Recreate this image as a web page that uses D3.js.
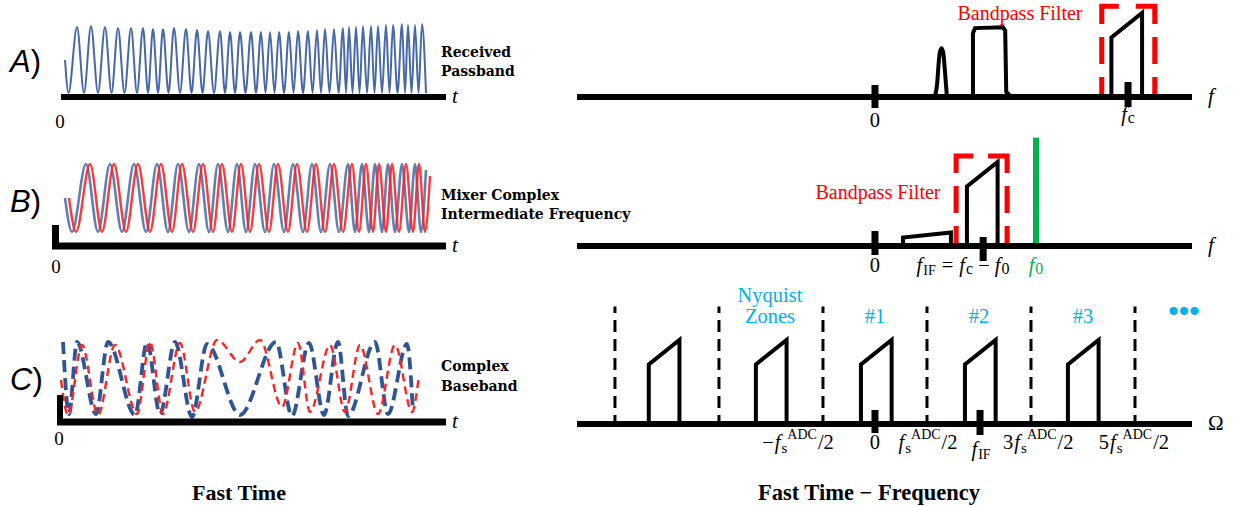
<!DOCTYPE html>
<html><head><meta charset="utf-8">
<script src="https://cdn.jsdelivr.net/npm/d3@7"></script>
<style>body{margin:0;background:#fff}svg{display:block}</style>
</head><body>
<svg id="chart" width="1233" height="507"></svg>
<script>
// ======================= DATA =======================
const rowLetters = ["A", "B", "C"];
const rowNames = [["Received", "Passband"], ["Mixer Complex", "Intermediate Frequency"], ["Complex", "Baseband"]];
const panelTitles = ["Fast Time", "Fast Time \u2212 Frequency"];

// --- Row A, fast time: received passband chirp (time units; heights above axis)
const aStart = [4, 37];
const aPeakT = [16,30,44,57,70,82,92,102,113,125,136,147,159,169,179,190,200,209,218,228,237,247,256,264,273,282,288,295,302,310,317,325,332,341,347,354,361];
const aPeakH = [70,71,70,69,69,69,68,68,69,68,67,66,66,65,65,65,65,65,65,65,66,66,67,68,68,69,70,70,71,71,71,72,72,73,72,72,73];
const aTroughT = [7.5,23,37,50.5,63.5,76,87,97,107.5,119,130.5,141.5,153,164,174,184.5,195,204.5,213.5,223,232.5,242,251.5,260,268.5,277.5,285,291.5,298.5,306,313.5,321,328.5,336.5,344,350.5,357.5,365];
const aTroughH = 4;

// --- Row B, fast time: complex IF (I = blue, Q = red)
const bPeakH = 82, bTroughH = 14;
const bIStart = [4, 48], bIEnd = [365, 76];
const bIPeakT = [25,49,73,96,117,138,157,176,194,213,232,251,269,287,301,314,327,341,354];
const bITroughT = [11,37,61,85,107,128,148,167,185,204,223,242,260,278,294,308,321,334,348,360];
const bQStart = [8, 48], bQEnd = [369, 70];
const bQPeakT = [29,53,77,100,121,142,161,180,198,217,236,255,273,291,305,318,331,345,358];
const bQTroughT = [15,41,65,89,111,132,152,171,189,208,227,246,264,282,298,312,325,338,352,364];

// --- Row C, fast time: complex baseband [time, height]
const cI = [[2,80],[8,8],[16,80],[35,8],[47,80],[74,7],[86,80],[99,8],[114,80],[131,5],[146,78],[179,7],[215,80],[231,6],[248,79],[263,7],[277,80],[287,6],[314,80],[327,8],[346,78],[352,10]];
const cQ = [[0,42],[7,7],[21,77],[37,7],[54,77],[76,8],[89,80],[102,8],[119,79],[134,10],[156,82],[179,60],[199,82],[221,15],[237,79],[249,10],[269,77],[284,10],[299,77],[317,8],[334,77],[351,10],[358,47]];

// --- Spectra (frequency in units of f_s^ADC, magnitude normalised)
const interfererTone = [[0.577,0],[0.596,0.14],[0.611,0.38],[0.625,0.54],[0.639,0.58],[0.654,0.54],[0.668,0.38],[0.683,0.14],[0.692,0]];
const interfererBand = [[0.942,0],[0.942,0.76],[0.962,0.82],[1.23,0.83],[1.252,0.79],[1.262,0.06],[1.31,0]];
const chirpShape = [[-0.145,0],[-0.145,0.71],[0.15,1.0],[0.15,0]];
const fcCenter = 2.418, fcTick = 2.433;
const aFilterBand = [2.18, 2.69], aFilterHeight = 1.08;
const imageBand = [[0.27,0],[0.27,0.10],[0.73,0.16],[0.73,0]];
const ifCenter = 1.029, ifTickB = 1.04;
const bFilterBand = [0.78, 1.27], bFilterHeight = 1.07;
const loFreq = 1.548, loHeight = 1.29;
const zoneEdges = [-2.5, -1.5, -0.5, 0.5, 1.5, 2.5], zoneEdgeHeight = 1.40;
const replicaCenters = [-2.03, -1.0, 0.01, 1.01, 2.0];
const ifTickC = 1.01;
const zoneLabels = [
  {f: -1.01, lines: ["Nyquist", "Zones"]},
  {f: 0.0, lines: ["#1"]},
  {f: 1.0, lines: ["#2"]},
  {f: 2.0, lines: ["#3"]}
];
const moreZonesF = 2.97;
const cAxisLabels = [
  {f: -0.74, kind: "half", prefix: "\u2212"},
  {f: 0.0, kind: "zero"},
  {f: 0.51, kind: "half", prefix: ""},
  {f: 1.02, kind: "fif"},
  {f: 1.57, kind: "half", prefix: "3"},
  {f: 2.49, kind: "half", prefix: "5"}
];

// ======================= LAYOUT / STYLE =======================
const svg = d3.select("#chart");
const serif = "'Liberation Serif', 'Times New Roman', serif";
const boldSerif = "'DejaVu Serif', serif";
const BLUE = "#4668a8", BLUE_C = "#2f5597", RED = "#ff2222", BOXRED = "#ff0000", GREEN = "#00b050", CYAN = "#00b0f0";

const rowsY = {left: [97, 246, 422], right: [97, 246, 424]};
const xT = d3.scaleLinear().domain([0, 385]).range([61, 446]);
const xF = d3.scaleLinear().domain([-2.865, 3.048]).range([577, 1192]);
const hScale = (axisY) => d3.scaleLinear().domain([0, 100]).range([axisY, axisY - 100]);
const mScale = (axisY) => d3.scaleLinear().domain([0, 1]).range([axisY, axisY - 84]);

function merge(start, peaksT, peaksH, troughsT, troughH, end) {
  const pts = [start];
  peaksT.forEach((t, i) => pts.push([t, Array.isArray(peaksH) ? peaksH[i] : peaksH]));
  troughsT.forEach(t => pts.push([t, troughH]));
  if (end) pts.push(end);
  return pts.sort((a, b) => a[0] - b[0]);
}

// ---------- math label helper ----------
function mathLabel(parent, x, y, pieces, opts = {}) {
  const size = opts.size || 20.5, small = opts.small || 14;
  const g = parent.append("g").attr("fill", opts.color || "#000");
  let cx = 0, subStart = 0;
  pieces.forEach(p => {
    const fs = (p.sub || p.sup) ? (p.sz || small) : size;
    const dy = p.sub ? (p.dy != null ? p.dy : 4) : p.sup ? -10 : 0;
    const sx = p.stack ? subStart : cx + (p.gap || 0);
    const t = g.append("text").attr("x", sx).attr("y", dy)
      .attr("font-family", serif).attr("font-size", fs)
      .attr("font-style", p.i ? "italic" : "normal").text(p.t);
    const w = t.node().getComputedTextLength() + (p.kern || 0);
    if (p.stack) cx = Math.max(cx, sx + w); else { subStart = sx + w; cx = sx + w; }
  });
  const anchorX = opts.anchor === "start" ? x : x - cx / 2;
  g.attr("transform", `translate(${anchorX},${y})`);
  return g;
}

// ======================= LEFT: FAST TIME =======================
const left = svg.append("g");
const lineCurve = (ys) => d3.line().x(d => xT(d[0])).y(d => ys(d[1])).curve(d3.curveMonotoneX);

// Row letters and names
rowLetters.forEach((L, i) => {
  const baseY = [72, 212, 390][i];
  const t = left.append("text").attr("x", 10).attr("y", baseY)
    .attr("font-family", "'Liberation Sans', Arial, sans-serif").attr("font-size", 31);
  t.append("tspan").attr("font-style", "italic").text(L);
  t.append("tspan").text(")");
  const nameY = [[57, 76], [200, 219], [371, 391]][i];
  rowNames[i].forEach((s, k) => left.append("text").attr("x", 441).attr("y", nameY[k])
    .attr("font-family", boldSerif).attr("font-weight", "bold").attr("font-size", 14).text(s));
});

// Waves
const yA = hScale(rowsY.left[0]), yB = hScale(rowsY.left[1]), yC = hScale(rowsY.left[2]);
left.append("path").datum(merge(aStart, aPeakT, aPeakH, aTroughT, aTroughH))
  .attr("d", lineCurve(yA)).attr("fill", "none").attr("stroke", BLUE).attr("stroke-width", 2);
left.append("path").datum(merge(bIStart, bIPeakT, bPeakH, bITroughT, bTroughH, bIEnd))
  .attr("d", lineCurve(yB)).attr("fill", "none").attr("stroke", BLUE).attr("stroke-opacity", 0.85).attr("stroke-width", 2.6);
left.append("path").datum(merge(bQStart, bQPeakT, bPeakH, bQTroughT, bTroughH, bQEnd))
  .attr("d", lineCurve(yB)).attr("fill", "none").attr("stroke", RED).attr("stroke-opacity", 0.9).attr("stroke-width", 2.4);
left.append("path").datum(cI).attr("d", lineCurve(yC)).attr("fill", "none")
  .attr("stroke", BLUE_C).attr("stroke-width", 3.8).attr("stroke-dasharray", "12,6");
left.append("path").datum(cQ).attr("d", lineCurve(yC)).attr("fill", "none")
  .attr("stroke", RED).attr("stroke-width", 2.4).attr("stroke-dasharray", "8,5");

// Time axes (with origin bars for B and C)
const tAxes = [{y: 97, t0: 0, w: 6}, {y: 246, t0: -9, w: 7, bar: [-9, -2, 225]}, {y: 422, t0: -4, w: 7, bar: [-4, 2, 395]}];
tAxes.forEach((a, i) => {
  left.append("line").attr("x1", xT(a.t0)).attr("x2", xT(385)).attr("y1", a.y).attr("y2", a.y)
    .attr("stroke", "#000").attr("stroke-width", a.w);
  if (a.bar) left.append("rect").attr("x", xT(a.bar[0])).attr("width", xT(a.bar[1]) - xT(a.bar[0]))
    .attr("y", a.bar[2]).attr("height", a.y - a.bar[2]).attr("fill", "#000");
  left.append("text").attr("x", 452).attr("y", a.y + 6).attr("font-family", serif)
    .attr("font-style", "italic").attr("font-size", 21).text("t");
  const zx = [60, 56, 59][i], zy = [128, 273, 445][i];
  left.append("text").attr("x", zx).attr("y", zy).attr("text-anchor", "middle")
    .attr("font-family", serif).attr("font-size", 19).text("0");
});

svg.append("text").attr("x", 239).attr("y", 500).attr("text-anchor", "middle")
  .attr("font-family", serif).attr("font-weight", "bold").attr("font-size", 22).text(panelTitles[0]);
svg.append("text").attr("x", 869).attr("y", 500).attr("text-anchor", "middle")
  .attr("font-family", serif).attr("font-weight", "bold").attr("font-size", 22.5).text(panelTitles[1]);

// ======================= RIGHT: SPECTRA =======================
const right = svg.append("g");
const specLine = (ms) => d3.line().x(d => xF(d[0])).y(d => ms(d[1]));
const blockAt = (c) => chirpShape.map(d => [c + d[0], d[1]]);

function freqAxis(axisY, label, ticks) {
  right.append("line").attr("x1", xF.range()[0]).attr("x2", xF.range()[1]).attr("y1", axisY).attr("y2", axisY)
    .attr("stroke", "#000").attr("stroke-width", 6);
  ticks.forEach(t => right.append("rect").attr("x", xF(t.f) - 3.5).attr("width", 7)
    .attr("y", axisY - t.up).attr("height", t.up + t.down).attr("fill", "#000"));
  const lt = right.append("text").attr("x", 1208).attr("y", axisY + 6).attr("font-family", serif).attr("font-size", 21).text(label.t);
  if (label.i) lt.attr("font-style", "italic");
}
function drawShape(ms, pts, curve) {
  const ln = specLine(ms); if (curve) ln.curve(curve);
  right.append("path").datum(pts).attr("d", ln).attr("fill", "none").attr("stroke", "#000")
    .attr("stroke-width", 4).attr("stroke-linejoin", "miter");
}
function filterBox(ms, band, height) {
  const x0 = xF(band[0]), x1 = xF(band[1]), yb = ms(0), yt = ms(height);
  const h = yb - yt, w = x1 - x0, r = h - 73;
  right.append("path").attr("d", `M${x0},${yb}V${yt}H${x1}V${yb}`).attr("fill", "none")
    .attr("stroke", BOXRED).attr("stroke-width", 5).attr("stroke-linejoin", "miter")
    .attr("stroke-dasharray", [20, 13, 27, 13, r + 17, w - 36, r + 19, 13, 27, 13, 20].join(","));
}

// Row A
{
  const ay = rowsY.right[0], ms = mScale(ay);
  drawShape(ms, interfererTone, d3.curveCatmullRom);
  drawShape(ms, interfererBand);
  drawShape(ms, blockAt(fcCenter));
  filterBox(ms, aFilterBand, aFilterHeight);
  freqAxis(ay, {t: "f", i: true}, [{f: 0, up: 12, down: 11}, {f: fcTick, up: 15, down: 10}]);
  right.append("text").attr("x", 1020).attr("y", 20).attr("text-anchor", "middle").attr("fill", BOXRED)
    .attr("font-family", serif).attr("font-size", 20).text("Bandpass Filter");
  mathLabel(right, xF(0), 127, [{t: "0"}]);
  mathLabel(right, xF(fcTick), 121, [{t: "f", i: true, kern: 1}, {t: "c", sub: true, sz: 16, dy: 2}]);
}
// Row B
{
  const by = rowsY.right[1], ms = mScale(by);
  drawShape(ms, imageBand);
  drawShape(ms, blockAt(ifCenter));
  filterBox(ms, bFilterBand, bFilterHeight);
  right.append("line").attr("x1", xF(loFreq)).attr("x2", xF(loFreq)).attr("y1", ms(0)).attr("y2", ms(loHeight))
    .attr("stroke", GREEN).attr("stroke-width", 6);
  freqAxis(by, {t: "f", i: true}, [{f: 0, up: 15, down: 9}, {f: ifTickB, up: 9, down: 15}]);
  right.append("text").attr("x", 878).attr("y", 199).attr("text-anchor", "middle").attr("fill", BOXRED)
    .attr("font-family", serif).attr("font-size", 20).text("Bandpass Filter");
  mathLabel(right, xF(0), 272, [{t: "0"}]);
  mathLabel(right, 963, 272, [{t: "f", i: true, kern: 1}, {t: "IF", sub: true, dy: 3},
    {t: "=", gap: 6}, {t: "f", i: true, gap: 6, kern: 1}, {t: "c", sub: true, sz: 16, dy: 2},
    {t: "\u2212", gap: 5}, {t: "f", i: true, gap: 5, kern: 1}, {t: "0", sub: true, sz: 16, dy: 2}]);
  mathLabel(right, xF(loFreq), 272, [{t: "f", i: true, kern: 1}, {t: "0", sub: true, sz: 16, dy: 2}], {color: GREEN});
}
// Row C
{
  const cy = rowsY.right[2], ms = mScale(cy);
  zoneEdges.forEach(f => right.append("line").attr("x1", xF(f)).attr("x2", xF(f))
    .attr("y1", ms(0)).attr("y2", ms(zoneEdgeHeight)).attr("stroke", "#000").attr("stroke-width", 3)
    .attr("stroke-dasharray", "12,7").attr("stroke-dashoffset", 3));
  replicaCenters.forEach(c => drawShape(ms, blockAt(c)));
  freqAxis(cy, {t: "\u03a9", i: false}, [{f: 0, up: 14, down: 9}, {f: ifTickC, up: 14, down: 11}]);
  zoneLabels.forEach(z => z.lines.forEach((s, k) => right.append("text")
    .attr("x", xF(z.f)).attr("y", (z.lines.length > 1 ? 302 : 323) + k * 21).attr("text-anchor", "middle")
    .attr("fill", CYAN).attr("font-family", serif).attr("font-size", 20.5).text(s)));
  right.append("text").attr("x", xF(moreZonesF)).attr("y", 321).attr("text-anchor", "middle")
    .attr("fill", CYAN).attr("font-family", "'Liberation Sans', sans-serif").attr("font-size", 30).text("\u2022\u2022\u2022");
  cAxisLabels.forEach(l => {
    if (l.kind === "zero") mathLabel(right, xF(l.f), 449, [{t: "0"}]);
    else if (l.kind === "fif") mathLabel(right, xF(l.f), 456, [{t: "f", i: true, kern: 1}, {t: "IF", sub: true, dy: 3}]);
    else {
      const pcs = [];
      if (l.prefix) pcs.push({t: l.prefix});
      pcs.push({t: "f", i: true, gap: l.prefix ? 1 : 0, kern: 1}, {t: "s", sub: true, sz: 15, dy: 4},
        {t: "ADC", sup: true, stack: true}, {t: "/2", gap: 1});
      mathLabel(right, xF(l.f), 449, pcs);
    }
  });
}
</script>
</body></html>
